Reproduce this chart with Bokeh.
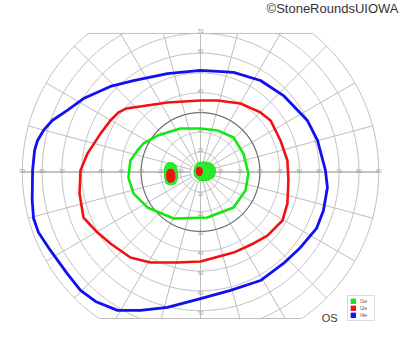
import numpy as np
from bokeh.plotting import figure
from bokeh.models import Label, Legend, LegendItem
from bokeh.core.properties import value
from bokeh.embed import file_html
from bokeh.resources import INLINE

# ---------------- data (degrees of visual field; x = horizontal, y = vertical) ----------------
ring_ecc = [5, 10, 20, 30, 40, 50, 60, 70, 80, 90]
meridians = list(range(0, 360, 15))
h_tick_labels = [10, 20, 30, 40, 50, 60, 70, 80, 90]
v_tick_labels = [10, 20, 30, 40, 50, 60, 70]
top_limit = 70
bottom_limit = -74

# I4e isopter (blue)
i4e_x = [0, 8.6, 16.7, 30.3, 41.9, 54.0, 59.1, 63.1, 64.1, 62.1, 58.6, 50.5, 41.9, 30.3, 15.2, 0,
         -16.7, -30.3, -41.9, -53.0, -60.6, -67.3, -75.8, -81.8, -84.3, -85.0, -84.8, -83.8, -82.3,
         -79.3, -74.9, -67.3, -59.1, -45.5, -33.8, -16.7, 0]
i4e_y = [51.3, 50.8, 50.3, 46.2, 38.6, 26.0, 16.0, 0.8, -7.8, -19.4, -28.5, -38.1, -46.2, -54.8,
         -59.8, -63.9, -68.4, -69.9, -69.9, -65.4, -59.8, -51.3, -39.6, -30.6, -23.5, -14.4, 0.8,
         10.9, 15.9, 21.0, 26.0, 31.1, 37.1, 43.2, 46.2, 49.7, 51.3]

# I2e isopter (red)
i2e_x = [0, 8.6, 20.2, 30.3, 35.4, 40.4, 43.9, 44.4, 43.9, 41.4, 33.8, 26.8, 16.7, 0, -11.6, -25.3,
         -35.4, -45.5, -52.0, -59.1, -61.1, -60.6, -57.1, -50.5, -45.5, -41.4, -37.4, -16.7, 0]
i2e_y = [36.1, 36.1, 34.6, 30.1, 26.0, 15.9, 5.8, -4.3, -15.9, -24.5, -32.1, -36.1, -40.7, -45.2,
         -45.7, -45.7, -43.2, -36.1, -30.6, -23.0, -10.9, 0.8, 9.3, 19.4, 26.0, 30.1, 32.1, 35.1, 36.1]

# I1e isopter (green)
i1e_x = [0, 8.6, 16.7, 21.7, 24.2, 22.7, 16.7, 3.5, -13.6, -26.8, -33.8, -36.4, -35.4, -31.8,
         -28.8, -21.7, -10.1, 0]
i1e_y = [22.0, 21.0, 17.4, 9.3, -0.8, -9.3, -17.9, -23.0, -23.5, -17.9, -10.9, -2.8, 5.8, 10.9,
         14.4, 18.4, 22.0, 22.0]

# blind spot (scotoma) areas
bs_i1e_x = [-16.2, -13.6, -12.1, -11.6, -11.6, -12.6, -15.2, -17.4, -18.2, -18.2, -17.4]
bs_i1e_y = [4.8, 4.5, 2.8, -0.3, -3.3, -5.8, -6.6, -5.8, -2.3, 1.8, 3.8]
bs_i2e_x = [-16.2, -14.1, -13.1, -12.9, -13.6, -15.7, -16.9, -17.2]
bs_i2e_y = [1.3, 1.3, -0.3, -2.8, -4.8, -5.3, -4.0, -0.8]

# central scotoma areas
cs_i1e_x = [-1.0, 2.5, 5.6, 7.3, 7.6, 6.6, 3.5, -0.5, -2.8, -3.4, -2.8]
cs_i1e_y = [4.8, 5.1, 4.3, 2.3, -0.3, -2.8, -4.3, -4.3, -2.3, 0.3, 3.0]
cs_i2e_x = [-1.0, 0.5, 1.0, 0.5, -0.8, -2.0, -2.2, -1.8]
cs_i2e_y = [2.4, 2.0, 0.3, -1.5, -2.0, -1.0, 0.8, 2.0]

legend_labels = ["I1e", "I2e", "I4e"]
GREEN, RED, BLUE = "#12e812", "#f21010", "#1010f0"

# ---------------- figure ----------------
p = figure(width=400, height=352, x_range=(-101.01, 101.01), y_range=(-91.16, 86.62),
           output_backend="svg", toolbar_location=None, min_border=0,
           x_axis_location=None, y_axis_location=None)
p.grid.visible = False
p.outline_line_color = None
p.background_fill_color = "white"
p.border_fill_color = "white"


def clipped_arc(r):
    th = np.radians(np.arange(0, 360.5, 0.5))
    xs, ys = r * np.cos(th), r * np.sin(th)
    ok = (ys <= top_limit + 1e-9) & (ys >= bottom_limit - 1e-9)
    segs = []
    cur_x, cur_y = [], []
    for xx, yy, k in zip(xs, ys, ok):
        if k:
            cur_x.append(float(xx)); cur_y.append(float(yy))
        elif cur_x:
            segs.append((cur_x, cur_y)); cur_x, cur_y = [], []
    if cur_x:
        segs.append((cur_x, cur_y))
    return segs


gx, gy = [], []
for r in ring_ecc:
    if r == 30:
        continue
    for sx, sy in clipped_arc(r):
        gx.append(sx); gy.append(sy)
w_top = float(np.sqrt(90**2 - top_limit**2))
w_bot = float(np.sqrt(90**2 - bottom_limit**2))
gx += [[-w_top, w_top], [-w_bot, w_bot]]
gy += [[top_limit, top_limit], [bottom_limit, bottom_limit]]
for a in meridians:
    if a in (0, 180):
        continue
    t = np.radians(a)
    s = np.sin(t)
    rmax = 90.0
    if s > 1e-9:
        rmax = min(rmax, top_limit / s)
    elif s < -1e-9:
        rmax = min(rmax, bottom_limit / s)
    gx.append([float(5 * np.cos(t)), float(rmax * np.cos(t))])
    gy.append([float(5 * np.sin(t)), float(rmax * np.sin(t))])
p.multi_line(gx, gy, line_color="#bdbdbd", line_width=1)
p.line([-90, -5], [0, 0], line_color="#b0b0b0", line_width=1.4)
p.line([5, 90], [0, 0], line_color="#b0b0b0", line_width=1.4)

for sx, sy in clipped_arc(30):
    p.line(sx, sy, line_color="#6a6a6a", line_width=1.2)

# scotoma patches (slightly transparent so the grid shows through a little)
p.patch(bs_i1e_x, bs_i1e_y, fill_color=GREEN, line_color=GREEN, line_width=1, fill_alpha=0.88)
p.patch(cs_i1e_x, cs_i1e_y, fill_color=GREEN, line_color=GREEN, line_width=1, fill_alpha=0.88)
p.patch(bs_i2e_x, bs_i2e_y, fill_color=RED, line_color=RED, line_width=1)
p.patch(cs_i2e_x, cs_i2e_y, fill_color=RED, line_color=RED, line_width=1)

# tick labels
hx = [-v for v in h_tick_labels] + h_tick_labels
p.text(x=hx, y=[0.4] * len(hx), text=[str(abs(v)) for v in hx], text_font_size="5px",
       text_color="#9a9a9a", text_align="center", text_baseline="middle",
       text_font=value("Liberation Sans"))
p.text(x=[0] * len(v_tick_labels), y=v_tick_labels, text=[str(v) for v in v_tick_labels],
       text_font_size="5px", text_color="#9a9a9a", text_align="center", text_baseline="bottom",
       text_font=value("Liberation Sans"))
p.text(x=[0] * len(v_tick_labels), y=[-v for v in v_tick_labels],
       text=[str(v) for v in v_tick_labels], text_font_size="5px", text_color="#9a9a9a",
       text_align="center", text_baseline="top", text_font=value("Liberation Sans"))

# isopters
p.line(i1e_x, i1e_y, line_color=GREEN, line_width=2.6, line_join="round")
p.line(i2e_x, i2e_y, line_color=RED, line_width=2.6, line_join="round")
p.line(i4e_x, i4e_y, line_color=BLUE, line_width=2.8, line_join="round")

# legend with square swatches (quad renderers carry no visible data)
items = []
for lab, col in zip(legend_labels, [GREEN, RED, BLUE]):
    r = p.quad(left=[np.nan], right=[np.nan], top=[np.nan], bottom=[np.nan],
               fill_color=col, line_color=col)
    items.append(LegendItem(label=lab, renderers=[r]))
leg = Legend(items=items, location=(347, 31), orientation="vertical",
             glyph_width=6, glyph_height=6, label_height=6, label_width=12,
             label_text_font_size="5px", label_text_color="#555555",
             label_text_font="Liberation Sans", label_standoff=4,
             spacing=1, padding=2, margin=0, border_line_color="#b5b5b5",
             border_line_width=1, background_fill_alpha=1)
p.add_layout(leg, "center")

p.add_layout(Label(x=61.2, y=-73.5, text="OS", text_font_size="11px", text_color="#3a3a3a",
                   text_font="Liberation Sans", text_baseline="middle", text_align="left"))
p.add_layout(Label(x=398, y=352 - 7.5, x_units="screen", y_units="screen",
                   text="©StoneRoundsUIOWA", text_font_size="13px", text_color="#333333",
                   text_font="Liberation Sans", text_align="right", text_baseline="middle"))

open("out.html", "w").write(file_html(p, INLINE))
